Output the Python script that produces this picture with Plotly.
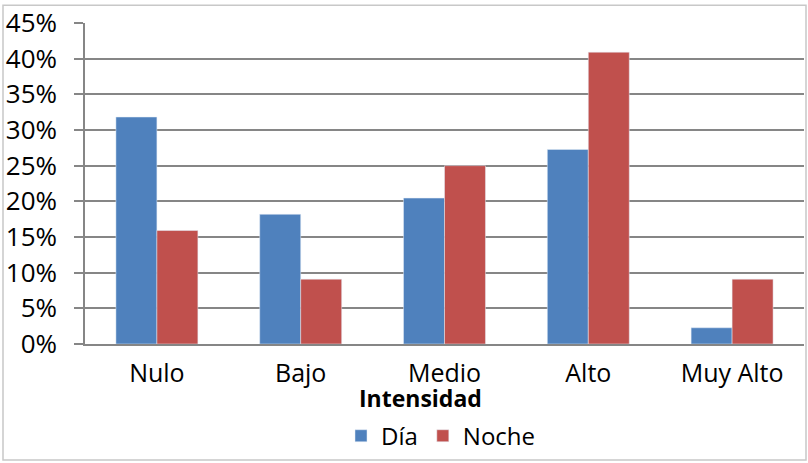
import plotly.graph_objects as go

categories = ["Nulo", "Bajo", "Medio", "Alto", "Muy Alto"]
dia = [14 / 44, 8 / 44, 9 / 44, 12 / 44, 1 / 44]
noche = [7 / 44, 4 / 44, 11 / 44, 18 / 44, 4 / 44]
tick_vals = [0, 0.05, 0.10, 0.15, 0.20, 0.25, 0.30, 0.35, 0.40, 0.45]
tick_text = ["0%", "5%", "10%", "15%", "20%", "25%", "30%", "35%", "40%", "45%"]

W, H = 808, 463
L, R, T, B = 85, 4, 20, 119
pw, ph = W - L - R, H - T - B

FONT = "Open Sans"

fig = go.Figure()
fig.add_trace(go.Bar(name="Día", x=categories, y=dia, marker_color="#4F81BD"))
fig.add_trace(go.Bar(name="Noche", x=categories, y=noche, marker_color="#C0504D"))

fig.update_layout(
    width=W, height=H,
    margin=dict(l=L, r=R, t=T, b=B, pad=0),
    paper_bgcolor="white", plot_bgcolor="white",
    barmode="group", bargap=0.43, bargroupgap=0,
    font=dict(family=FONT, size=24, color="black"),
    showlegend=True,
    legend=dict(
        orientation="h", xanchor="left", yanchor="middle",
        x=(341 - L) / pw, y=(H - B - 437) / ph,
        font=dict(family=FONT, size=24, color="black"),
        itemwidth=30, traceorder="normal",
        bgcolor="rgba(0,0,0,0)",
    ),
    xaxis=dict(
        showline=True, linecolor="#868686", linewidth=1.5,
        showgrid=False, ticks="", tickfont=dict(size=25),
        ticklabelstandoff=6,
    ),
    yaxis=dict(
        range=[0, 0.45], tickvals=tick_vals, ticktext=tick_text,
        showgrid=True, gridcolor="#868686", gridwidth=1.5,
        showline=True, linecolor="#868686", linewidth=1.5,
        ticks="outside", ticklen=9, tickcolor="#868686", tickwidth=1.5,
        tickfont=dict(size=26), zeroline=False,
        ticklabelstandoff=12,
    ),
    annotations=[dict(
        text="<b>Intensidad</b>", xref="paper", yref="paper",
        x=(420 - L) / pw, y=(H - B - 398) / ph,
        xanchor="center", yanchor="middle", showarrow=False,
        font=dict(family=FONT, size=23, color="black"),
    )],
    shapes=[dict(
        type="rect", xref="paper", yref="paper",
        x0=(3 - L) / pw, x1=(806 - L) / pw,
        y0=(H - B - 461) / ph, y1=(H - B - 2) / ph,
        line=dict(color="#C8C8C8", width=1.5), fillcolor="rgba(0,0,0,0)",
        layer="below",
    )],
)

fig.write_html("out.html")
